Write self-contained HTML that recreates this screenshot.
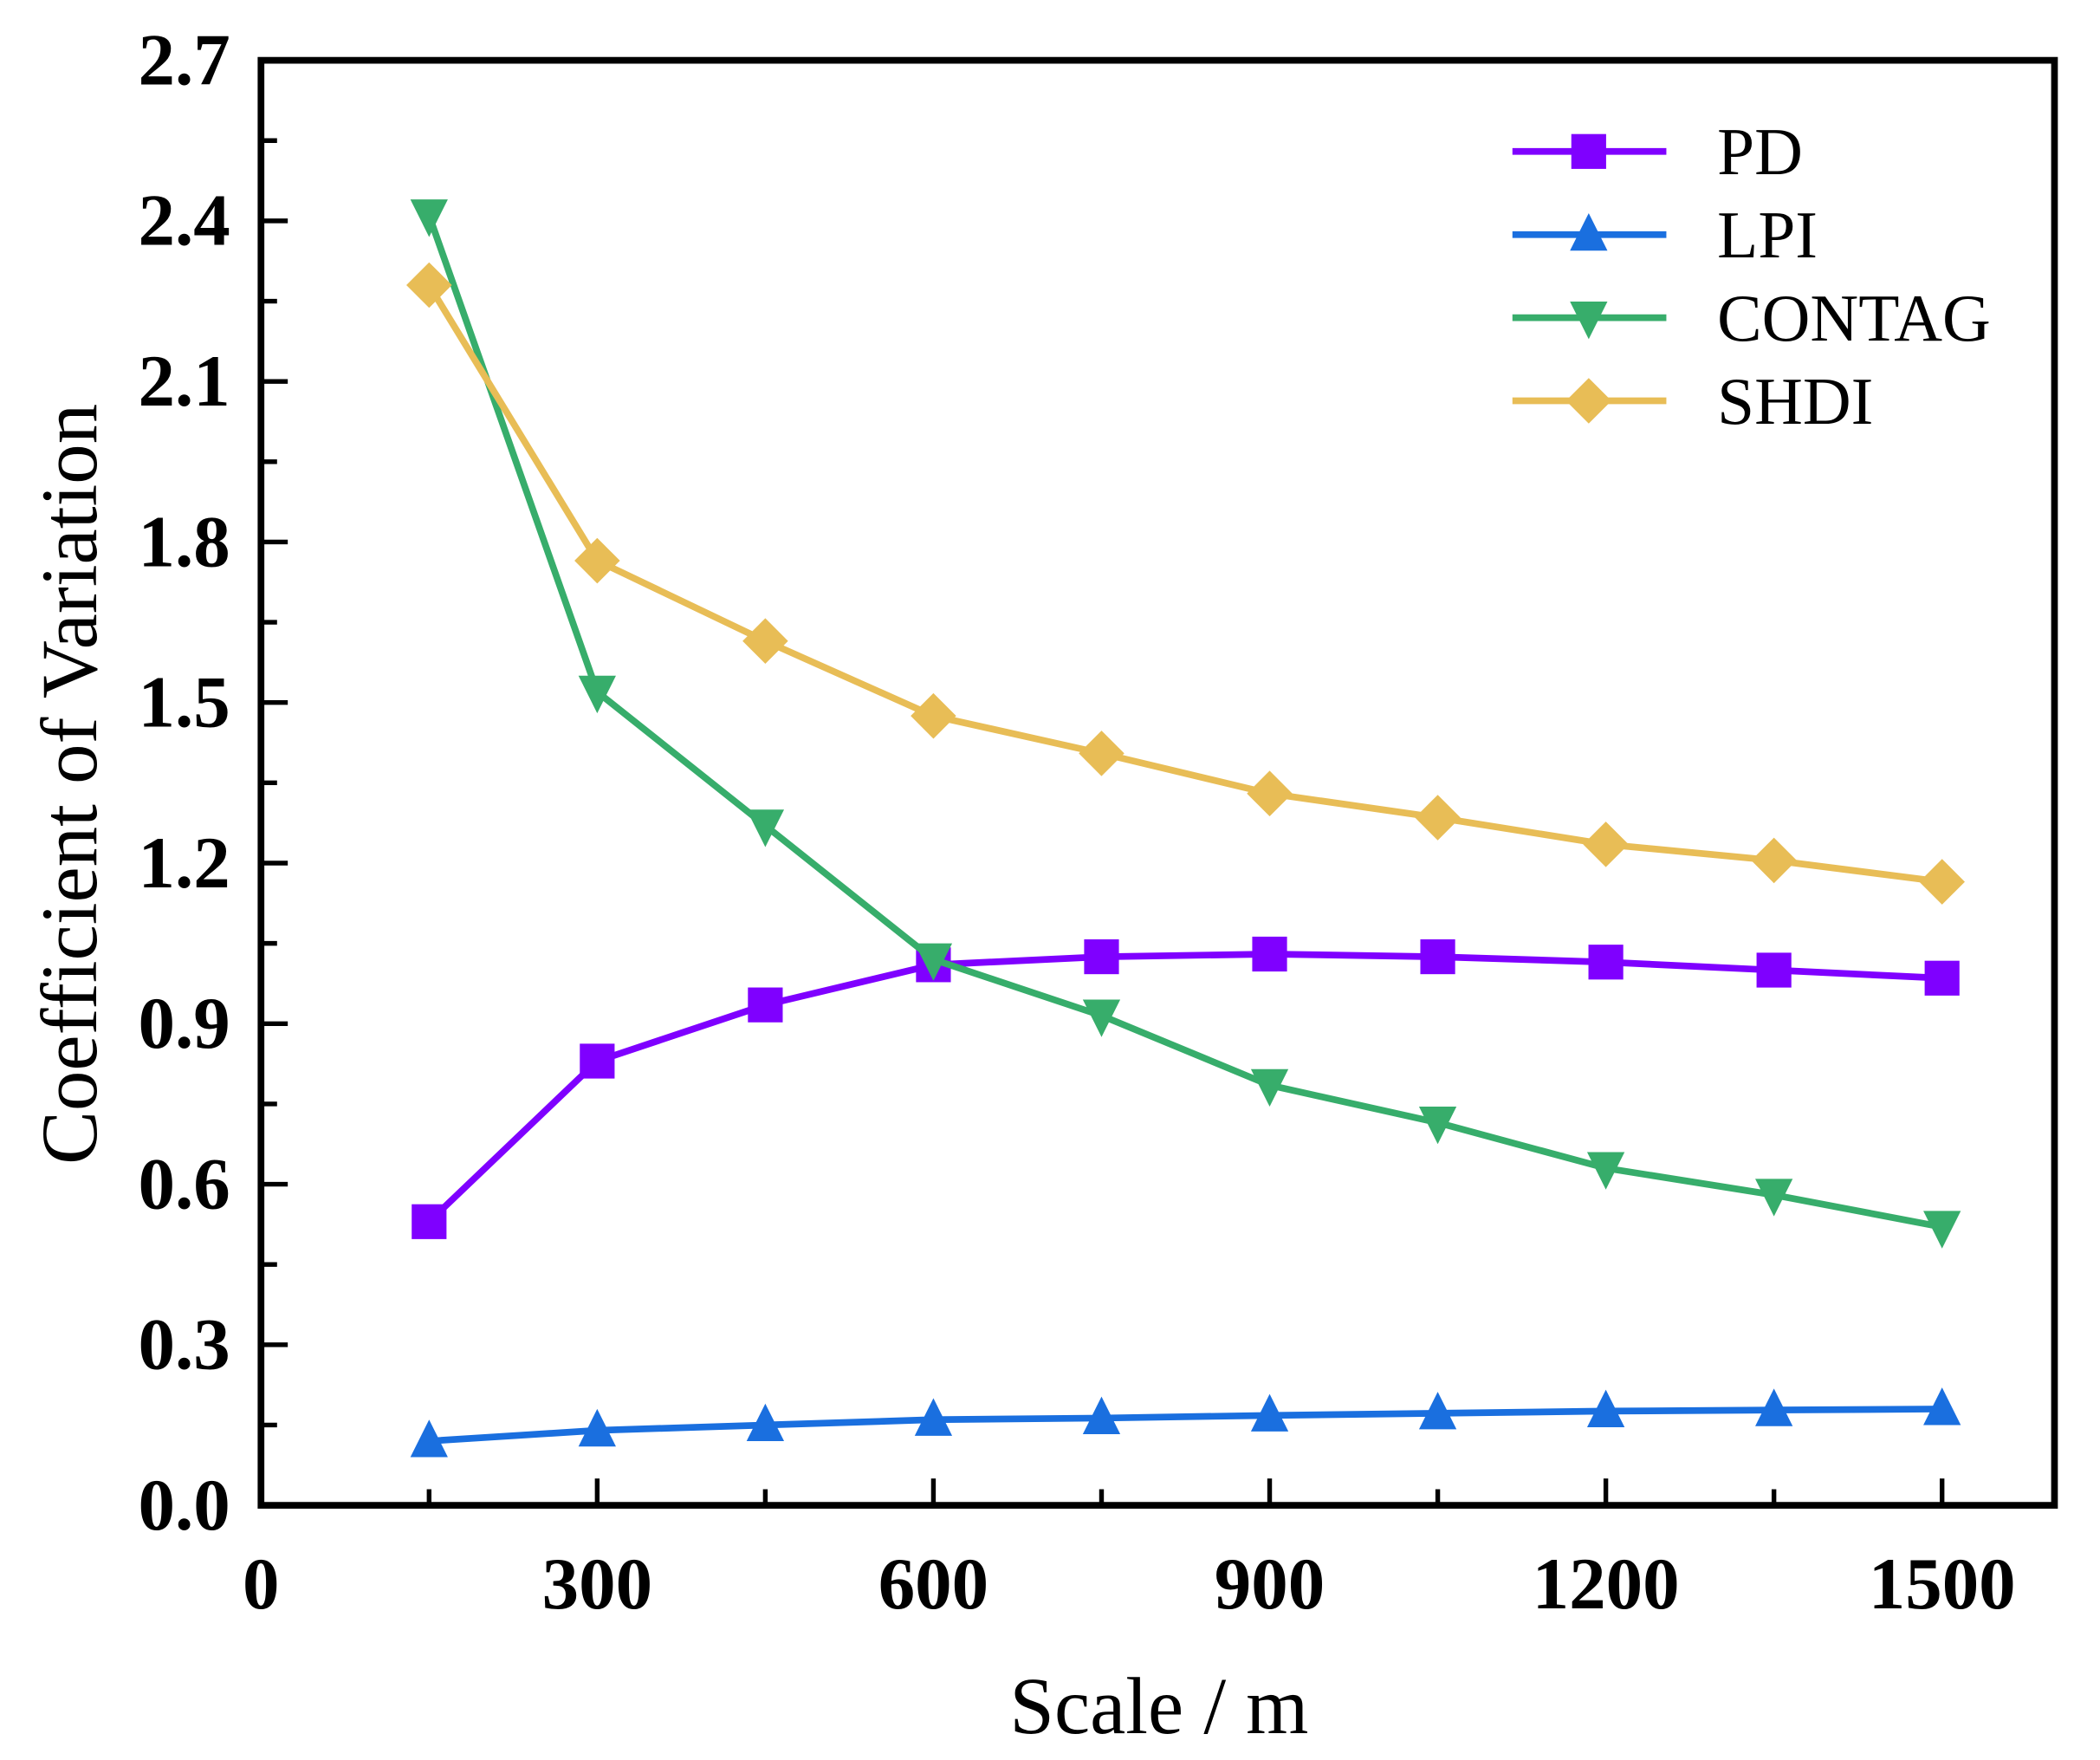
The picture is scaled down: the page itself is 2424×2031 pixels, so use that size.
<!DOCTYPE html>
<html><head><meta charset="utf-8"><style>html,body{margin:0;padding:0;background:#fff}svg{display:block}</style></head>
<body>
<svg id="chart" width="2424" height="2031" viewBox="0 0 1569 1313" preserveAspectRatio="none" xmlns="http://www.w3.org/2000/svg" font-family="'Liberation Serif', serif"></svg>
<script>
const scales = [150,300,450,600,750,900,1050,1200,1350,1500];
const pdValues = [0.53,0.83,0.935,1.01,1.025,1.03,1.025,1.015,1.0,0.985];
const lpiValues = [0.12,0.14,0.15,0.16,0.163,0.168,0.172,0.176,0.178,0.18];
const contagValues = [2.41,1.52,1.27,1.02,0.915,0.785,0.715,0.63,0.58,0.52];
const shdiValues = [2.28,1.765,1.615,1.475,1.405,1.33,1.285,1.235,1.205,1.165];
const yTickLabels = ["0.0","0.3","0.6","0.9","1.2","1.5","1.8","2.1","2.4","2.7"];
const xTickLabels = ["0","300","600","900","1200","1500"];

const NS="http://www.w3.org/2000/svg";
const svg=document.getElementById('chart');
const L=195,R=1535,T=45,B=1123;
const yMax=2.7;
function xs(v){return L+v*(1451-195)/1500;}
function ys(v){return B-v*(B-T)/yMax;}
function mk(tag,attrs,parent){const e=document.createElementNS(NS,tag);for(const k in attrs)e.setAttribute(k,attrs[k]);(parent||svg).appendChild(e);return e;}

const frame=mk('rect',{x:L,y:T,width:R-L,height:B-T,fill:'none',stroke:'#000','stroke-width':5});



for(let i=0;i<=18;i++){
  const v=i*0.15; const y=ys(v); const major=i%2===0;
  const t=mk('line',{x1:L,x2:L+(major?20:12),y1:y,y2:y,stroke:'#000','stroke-width':3.5});
  
  
}
yTickLabels.forEach(lbl=>{
  const t=mk('text',{x:172,y:ys(parseFloat(lbl))+18,'text-anchor':'end','font-size':55,'font-weight':'bold'});
  t.textContent=lbl;
  
  
});
for(let v=150;v<=1500;v+=150){
  const major=v%300===0; const x=xs(v);
  const t=mk('line',{x1:x,x2:x,y1:B,y2:B-(major?20:12),stroke:'#000','stroke-width':3.5});
  
  
}
xTickLabels.forEach(lbl=>{
  const t=mk('text',{x:xs(parseFloat(lbl)),y:1200,'text-anchor':'middle','font-size':55,'font-weight':'bold'});
  t.textContent=lbl;
  
  
});
const yt=mk('text',{x:0,y:0,transform:'translate(72,585) rotate(-90)','text-anchor':'middle','font-size':60});
yt.textContent='Coefficient of Variation';


const xt=mk('text',{x:866,y:1293,'text-anchor':'middle','font-size':60});
xt.textContent='Scale / m';



function marker(type,x,y,color,parent){
  const s=14;
  if(type==='square') return mk('rect',{x:x-s+1,y:y-s+1,width:2*s-2,height:2*s-2,fill:color},parent);
  if(type==='up') return mk('polygon',{points:`${x},${y-s-2} ${x+s},${y+s-2} ${x-s},${y+s-2}`,fill:color},parent);
  if(type==='down') return mk('polygon',{points:`${x-s},${y-s+2} ${x+s},${y-s+2} ${x},${y+s+2}`,fill:color},parent);
  return mk('polygon',{points:`${x},${y-s-3} ${x+s+3},${y} ${x},${y+s+3} ${x-s-3},${y}`,fill:color},parent);
}
const series=[
  {name:'PD',vals:pdValues,color:'#7f00ff',m:'square'},
  {name:'LPI',vals:lpiValues,color:'#1a6fdf',m:'up'},
  {name:'CONTAG',vals:contagValues,color:'#37ad6b',m:'down'},
  {name:'SHDI',vals:shdiValues,color:'#e8bd56',m:'diamond'}
];
series.forEach((s,si)=>{
  const g=mk('g',{});
  
  
  const pts=scales.map((sc,i)=>xs(sc)+','+ys(s.vals[i])).join(' ');
  const pl=mk('polyline',{points:pts,fill:'none',stroke:s.color,'stroke-width':5},g);
  
  
  scales.forEach((sc,i)=>{
    const m=marker(s.m,xs(sc),ys(s.vals[i]),s.color,g);
    
    
  });
  const ly=113+si*62;
  const lg=mk('g',{});
  
  
  mk('line',{x1:1130,x2:1245,y1:ly,y2:ly,stroke:s.color,'stroke-width':5},lg);
  marker(s.m,1187,ly,s.color,lg);
  const tx=mk('text',{x:1283,y:ly+17,'font-size':50},lg);
  tx.textContent=s.name;
});
</script>
</body></html>
